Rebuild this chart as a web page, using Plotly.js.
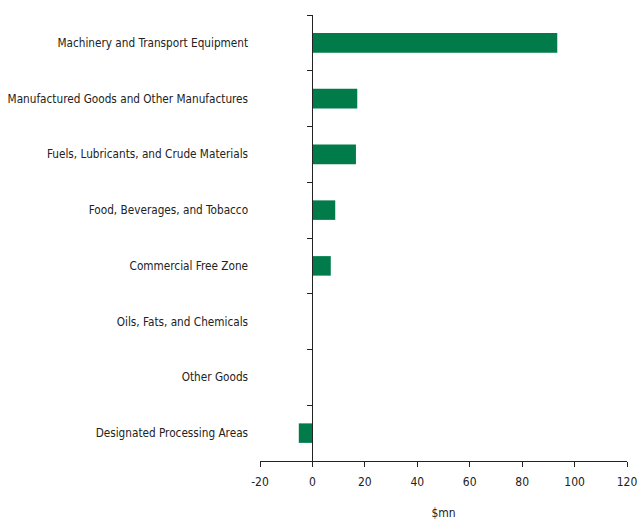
<!DOCTYPE html>
<html>
<head>
<meta charset="utf-8">
<script src="https://cdn.plot.ly/plotly-3.0.1.min.js"></script>
<style>
  html, body { margin: 0; padding: 0; background: #fff; }
  #chart { width: 637px; height: 520px; }
</style>
</head>
<body>
<div id="chart"></div>
<script>
// Import categories, top to bottom
const categories = [
  "Machinery and Transport Equipment",
  "Manufactured Goods and Other Manufactures",
  "Fuels, Lubricants, and Crude Materials",
  "Food, Beverages, and Tobacco",
  "Commercial Free Zone",
  "Oils, Fats, and Chemicals",
  "Other Goods",
  "Designated Processing Areas"
];
// Values in $mn
const values = [93.4, 17.1, 16.6, 8.7, 7.0, 0.0, 0.1, -5.2];
const xTicks = [-20, 0, 20, 40, 60, 80, 100, 120];

const fontFamily = "'DejaVu Sans Condensed', 'Liberation Sans', sans-serif";

const trace = {
  type: "bar",
  orientation: "h",
  y: categories,
  x: values,
  marker: { color: "#017B4A", line: { width: 0 } },
  hoverinfo: "x+y"
};

const layout = {
  width: 637,
  height: 520,
  margin: { l: 260, r: 10, t: 15, b: 59 },
  paper_bgcolor: "#fff",
  plot_bgcolor: "#fff",
  showlegend: false,
  bargap: 0.65,
  font: { family: fontFamily, size: 12, color: "#222" },
  xaxis: {
    range: [-20, 120],
    tickvals: xTicks,
    ticktext: xTicks.map(String),
    showgrid: false,
    zeroline: false,
    showline: true,
    linecolor: "#222",
    linewidth: 1,
    ticks: "outside",
    ticklen: 5,
    tickcolor: "#222",
    ticklabelstandoff: 5,
    ticklabeloverflow: "allow",
    tickfont: { family: fontFamily, size: 12, color: "#222" },
    title: { text: "$mn", font: { family: fontFamily, size: 12, color: "#222" }, standoff: 25 }
  },
  yaxis: {
    categoryorder: "array",
    categoryarray: categories,
    autorange: "reversed",
    anchor: "free",
    position: 20 / 140,
    showgrid: false,
    zeroline: false,
    showline: true,
    linecolor: "#222",
    linewidth: 1,
    ticks: "outside",
    tickson: "boundaries",
    ticklen: 5,
    tickcolor: "#222",
    ticklabelstandoff: 62,
    tickfont: { family: fontFamily, size: 11.7, color: "#222" }
  }
};

Plotly.newPlot("chart", [trace], layout, { displayModeBar: false, staticPlot: true });
</script>
</body>
</html>
